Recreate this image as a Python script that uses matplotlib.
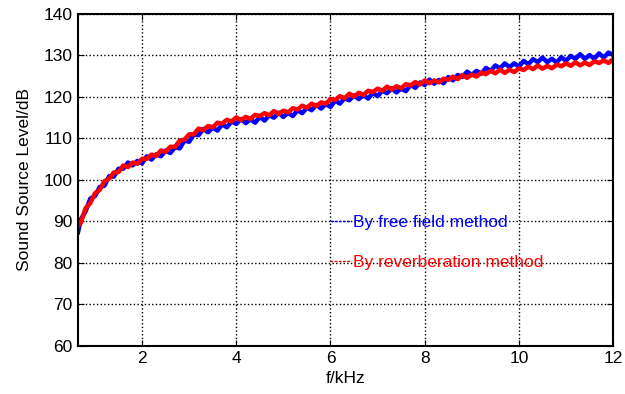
import numpy as np
import matplotlib
matplotlib.use("Agg")
import matplotlib.pyplot as plt
from matplotlib.lines import Line2D

plt.rcParams["font.family"] = ["Liberation Sans", "DejaVu Sans"]

# frequency axis (kHz), 0.64 then 0.7 ... 12.0
freq = [0.64] + list(np.round(np.arange(0.7, 12.01, 0.1), 1))

# reverberation method (red)
level_reverb = [
    88.9, 89.7, 93.2, 94.4, 96.8, 97.6, 99.7, 100.3, 101.8, 101.9,
    103.5, 103.1, 104.2, 103.9, 105.1, 105.1, 106.1, 105.8, 107.1, 106.8,
    108.0, 108.0, 109.5, 109.7, 111.0, 111.0, 112.4, 112.0, 113.0, 112.7,
    113.8, 113.6, 114.5, 114.1, 115.1, 114.4, 115.2, 114.7, 115.7, 115.4,
    116.1, 115.6, 116.6, 115.9, 116.7, 116.3, 117.3, 117.0, 117.9, 117.4,
    118.4, 117.8, 118.7, 118.4, 119.5, 119.3, 120.2, 119.7, 120.8, 120.1,
    121.0, 120.5, 121.5, 121.2, 122.0, 121.5, 122.5, 121.8, 122.6, 122.1,
    123.1, 122.8, 123.6, 123.0, 124.0, 123.3, 124.0, 123.5, 124.4, 124.1,
    124.9, 124.3, 125.3, 124.6, 125.4, 124.9, 125.9, 125.5, 126.3, 125.7,
    126.6, 125.8, 126.6, 126.0, 126.9, 126.5, 127.3, 126.7, 127.6, 126.8,
    127.5, 126.9, 127.8, 127.4, 128.1, 127.5, 128.4, 127.6, 128.3, 127.7,
    128.6, 128.2, 128.8, 128.2, 129.1,
]

# free field method (blue)
level_free = [
    87.4, 90.5, 92.4, 95.5, 96.1, 98.3, 98.6, 100.9, 100.8, 102.7,
    102.7, 104.2, 103.5, 104.6, 104.0, 105.7, 104.9, 106.2, 105.7, 107.1,
    106.5, 107.9, 107.6, 109.5, 109.2, 111.0, 110.8, 112.3, 111.5, 112.6,
    111.9, 113.4, 112.7, 114.1, 113.5, 114.7, 113.7, 114.6, 113.8, 115.2,
    114.3, 115.6, 115.0, 116.2, 115.2, 116.2, 115.4, 116.8, 116.1, 117.4,
    116.8, 118.1, 117.2, 118.3, 117.6, 119.1, 118.4, 119.7, 119.2, 120.4,
    119.5, 120.4, 119.6, 121.0, 120.2, 121.5, 120.9, 122.1, 121.1, 122.0,
    121.4, 122.9, 122.2, 123.5, 122.9, 124.2, 123.2, 124.1, 123.3, 124.8,
    124.0, 125.3, 124.8, 126.1, 125.3, 126.3, 125.6, 127.0, 126.3, 127.6,
    126.9, 128.1, 127.2, 128.1, 127.3, 128.7, 127.9, 129.1, 128.4, 129.5,
    128.4, 129.2, 128.3, 129.6, 128.7, 129.9, 129.2, 130.3, 129.2, 130.1,
    129.2, 130.5, 129.5, 130.7, 130.1,
]

labels = ["By free field method", "By reverberation method"]
colors = ["#0000ff", "#ff0000"]

fig = plt.figure(figsize=(6.25, 3.94), dpi=100)
ax = fig.add_axes([0.1248, 0.122, 0.8562, 0.8425])

ax.plot(freq, level_free, color=colors[0], lw=3.2)
ax.plot(freq, level_reverb, color=colors[1], lw=3.2)

ax.set_xlim(0.64, 12)
ax.set_ylim(60, 140)
ax.set_xticks([2, 4, 6, 8, 10, 12])
ax.set_yticks(range(60, 141, 10))
ax.grid(True, color="black", linestyle=":", linewidth=1.0)
ax.tick_params(direction="in", top=True, right=True, labelsize=12.5, length=4, pad=4)
for s in ax.spines.values():
    s.set_linewidth(1.5)

ax.set_xlabel("f/kHz", fontsize=12.5, labelpad=3)
ax.set_ylabel("Sound Source Level/dB", fontsize=12.5, labelpad=8)

handles = [Line2D([], [], color=c, lw=1, linestyle=(0, (2, 1))) for c in colors]
leg = ax.legend(handles, labels, loc="center left", bbox_to_anchor=(0.471, 0.312),
                frameon=False, fontsize=12.5, handlelength=1.2, handletextpad=0.1,
                labelspacing=1.45, borderpad=0, borderaxespad=0)
for t, c in zip(leg.get_texts(), colors):
    t.set_color(c)

fig.savefig("out.png", dpi=100)
